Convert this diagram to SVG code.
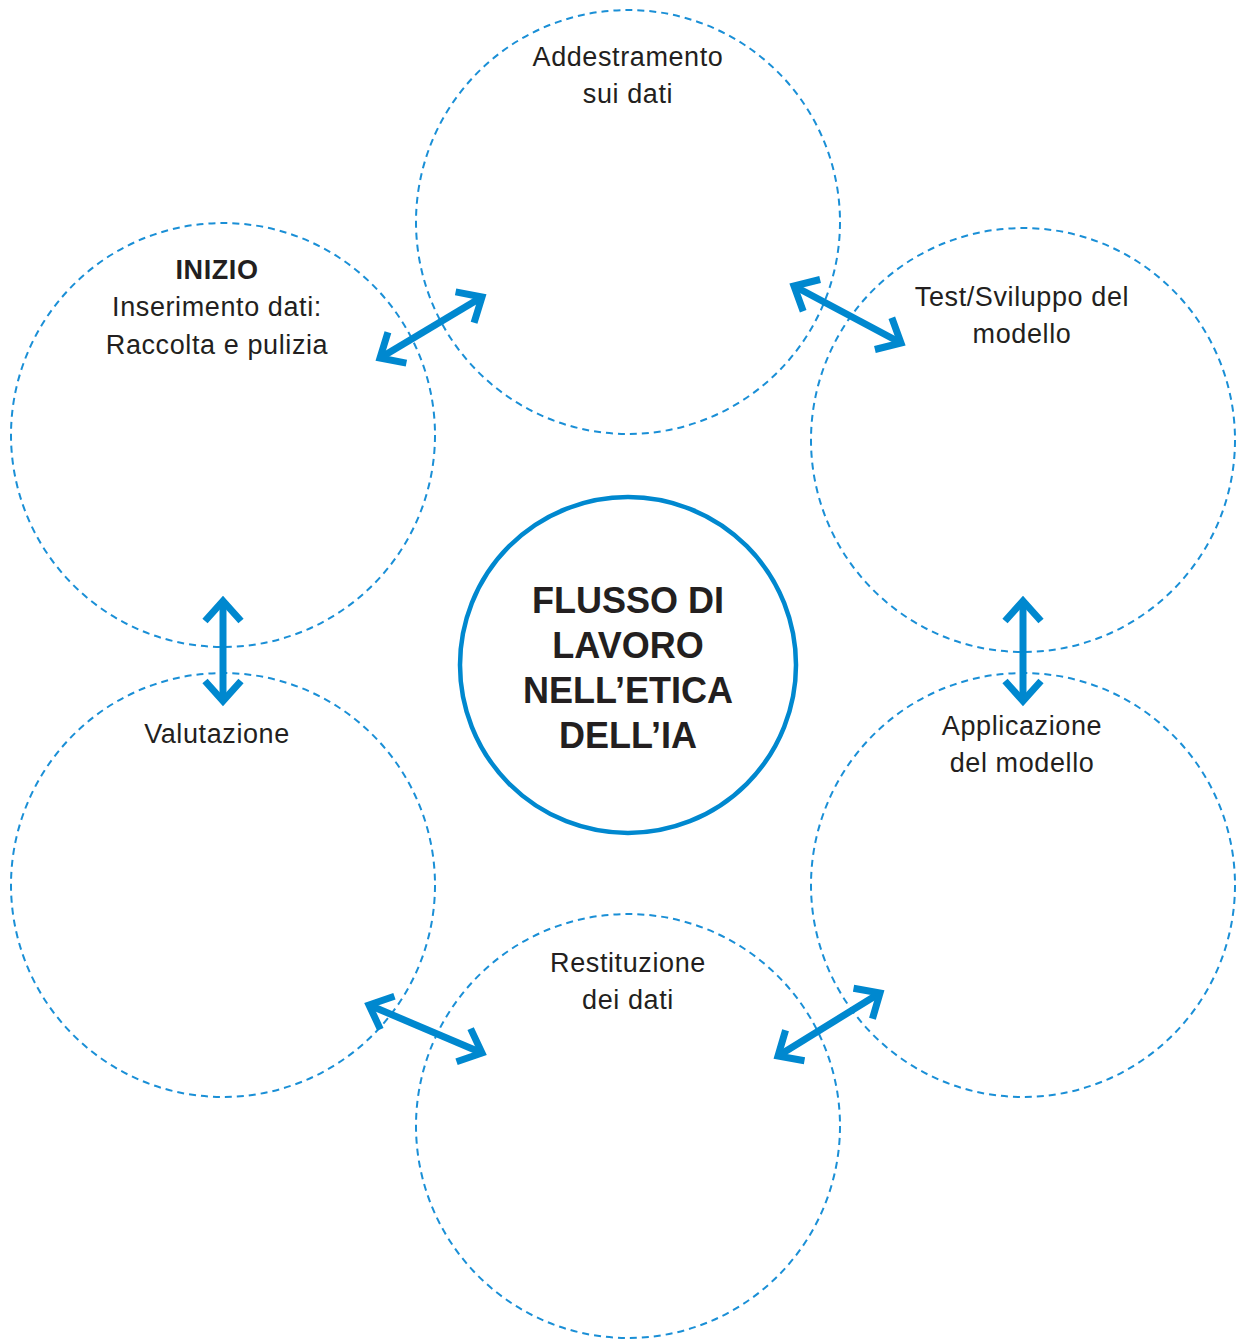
<svg xmlns="http://www.w3.org/2000/svg" width="1239" height="1339" viewBox="0 0 1239 1339">
  <style>
    .stage { fill: none; stroke: #1a8fd6; stroke-width: 2; stroke-dasharray: 7 5; }
    .hub { fill: #fff; stroke: #0088cf; stroke-width: 4.5; }
    .label { font-family: "Liberation Sans", Arial, sans-serif; font-size: 27px; letter-spacing: 0.6px; fill: #231f20; text-anchor: middle; }
    .bold { font-weight: bold; }
    .title { font-family: "Liberation Sans", Arial, sans-serif; font-size: 36px; font-weight: bold; fill: #231f20; text-anchor: middle; }
    .link { fill: none; stroke: #0088cf; stroke-width: 7; marker-start: url(#head); marker-end: url(#head); }
  </style>
  <defs>
    <marker id="head" markerUnits="userSpaceOnUse" markerWidth="60" markerHeight="60" refX="0" refY="0" orient="auto-start-reverse" overflow="visible">
      <path d="M-20,-18 L0,0 L-20,18" fill="none" stroke="#0088cf" stroke-width="7" stroke-linejoin="miter"/>
    </marker>
  </defs>
  <rect width="1239" height="1339" fill="#fff"/>

  <g id="training">
    <circle class="stage" cx="628" cy="222" r="212"/>
    <text class="label" x="628" y="66">Addestramento</text>
    <text class="label" x="628" y="103">sui dati</text>
  </g>
  <g id="start">
    <circle class="stage" cx="223" cy="435" r="212"/>
    <text class="label bold" x="217" y="279">INIZIO</text>
    <text class="label" x="217" y="316">Inserimento dati:</text>
    <text class="label" x="217" y="354">Raccolta e pulizia</text>
  </g>
  <g id="test">
    <circle class="stage" cx="1023" cy="440" r="212"/>
    <text class="label" x="1022" y="306">Test/Sviluppo del</text>
    <text class="label" x="1022" y="343">modello</text>
  </g>
  <g id="evaluation">
    <circle class="stage" cx="223" cy="885" r="212"/>
    <text class="label" x="217" y="743">Valutazione</text>
  </g>
  <g id="application">
    <circle class="stage" cx="1023" cy="885" r="212"/>
    <text class="label" x="1022" y="735">Applicazione</text>
    <text class="label" x="1022" y="772">del modello</text>
  </g>
  <g id="return">
    <circle class="stage" cx="628" cy="1126" r="212"/>
    <text class="label" x="628" y="972">Restituzione</text>
    <text class="label" x="628" y="1009">dei dati</text>
  </g>

  <g id="connectors">
    <line class="link" x1="380" y1="358" x2="482" y2="297"/>
    <line class="link" x1="794" y1="286" x2="901" y2="343"/>
    <line class="link" x1="223" y1="601" x2="223" y2="701"/>
    <line class="link" x1="1023" y1="601" x2="1023" y2="701"/>
    <line class="link" x1="369" y1="1005" x2="482" y2="1053"/>
    <line class="link" x1="778" y1="1056" x2="880" y2="993"/>
  </g>

  <g id="hub">
    <circle class="hub" cx="628" cy="665" r="168"/>
    <text class="title" x="628" y="613">FLUSSO DI</text>
    <text class="title" x="628" y="658">LAVORO</text>
    <text class="title" x="628" y="703">NELL’ETICA</text>
    <text class="title" x="628" y="748">DELL’IA</text>
  </g>
</svg>
